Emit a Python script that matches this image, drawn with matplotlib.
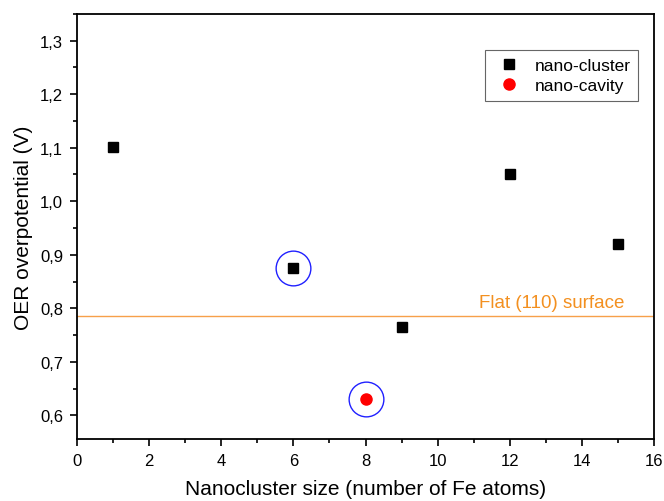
import matplotlib
matplotlib.use('Agg')
import matplotlib.pyplot as plt
from matplotlib.ticker import MultipleLocator, FuncFormatter

plt.rcParams['font.family'] = ['Liberation Sans', 'DejaVu Sans']

# data
cluster_size = [1, 6, 9, 12, 15]
cluster_oer = [1.102, 0.876, 0.765, 1.051, 0.921]
cavity_size = [8]
cavity_oer = [0.630]
circled_size = [6, 8]
circled_oer = [0.876, 0.630]
flat_surface = 0.786

fig = plt.figure(figsize=(6.64, 5.02), dpi=100)
ax = fig.add_axes([0.116, 0.1235, 0.869, 0.847])

ax.axhline(flat_surface, color='#f7a04a', lw=1.0, zorder=1)
ax.text(15.17, flat_surface + 0.009, 'Flat (110) surface', color='#f39020',
        fontsize=13.5, ha='right', va='bottom')

ax.plot(cluster_size, cluster_oer, 's', color='black', ms=7, label='nano-cluster', zorder=3)
ax.plot(cavity_size, cavity_oer, 'o', color='red', ms=8, label='nano-cavity', zorder=3)
ax.plot(circled_size, circled_oer, 'o', mfc='none', mec='#2020ff', mew=1.0, ms=25, zorder=2)

ax.set_xlim(0, 16)
ax.set_ylim(0.556, 1.35)
ax.xaxis.set_major_locator(MultipleLocator(2))
ax.xaxis.set_minor_locator(MultipleLocator(1))
ax.yaxis.set_major_locator(MultipleLocator(0.1))
ax.yaxis.set_minor_locator(MultipleLocator(0.05))
ax.yaxis.set_major_formatter(FuncFormatter(lambda v, p: ('%.1f' % v).replace('.', ',')))
ax.tick_params(which='major', direction='out', length=5, width=1.2, labelsize=12, pad=5)
ax.tick_params(which='minor', direction='out', length=3, width=1.2)
for s in ax.spines.values():
    s.set_linewidth(1.3)

ax.set_xlabel('Nanocluster size (number of Fe atoms)', fontsize=15, labelpad=8)
ax.set_ylabel('OER overpotential (V)', fontsize=15, labelpad=5)

leg = ax.legend(loc='upper right', bbox_to_anchor=(0.988, 0.936), fontsize=12.5,
                frameon=True, fancybox=False, edgecolor='#404040', handletextpad=0.6,
                borderpad=0.45, labelspacing=0.3, handlelength=1.8)
leg.get_frame().set_linewidth(0.8)

fig.savefig('out.png', dpi=100)
